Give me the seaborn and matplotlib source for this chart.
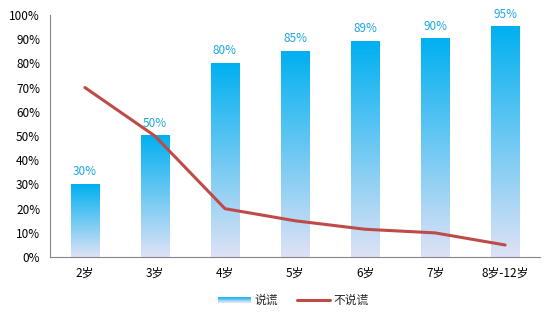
import numpy as np
import pandas as pd
import matplotlib
matplotlib.use("Agg")
import matplotlib.pyplot as plt
import seaborn as sns
from matplotlib.colors import LinearSegmentedColormap
from matplotlib.legend_handler import HandlerBase
from matplotlib.patches import Rectangle
from matplotlib.lines import Line2D
from matplotlib.ticker import PercentFormatter, FixedLocator

categories = ["2岁", "3岁", "4岁", "5岁", "6岁", "7岁", "8岁-12岁"]
lie = [30, 50, 80, 85, 89, 90, 95]
no_lie = [70, 50, 20, 15, 11.5, 10, 5]

sns.set_style("white")
plt.rcParams['font.family'] = ['Noto Sans CJK SC', 'DejaVu Sans']

top_c = (0/255, 176/255, 240/255)
bot_c = (222/255, 226/255, 246/255)
cmap = LinearSegmentedColormap.from_list("g", [bot_c, top_c])

fig = plt.figure(figsize=(5.54, 3.23), dpi=100)
ax = fig.add_axes([0.090, 0.204, 0.885, 0.750])

df = pd.DataFrame({"cat": categories, "lie": lie, "no": no_lie})
sns.barplot(data=df, x="cat", y="lie", ax=ax, width=0.4, color=top_c, order=categories)

grad = np.linspace(0, 1, 256).reshape(-1, 1)
for p in list(ax.patches):
    x0, y0 = p.get_x(), p.get_y()
    w, h = p.get_width(), p.get_height()
    p.set_alpha(0)
    ax.imshow(grad, cmap=cmap, aspect="auto", origin="lower",
              extent=[x0, x0 + w, 0, h], vmin=0, vmax=1, zorder=2)
    ax.text(x0 + w / 2, h + 2.5, f"{int(h)}%", ha="center", va="bottom",
            fontsize=8.5, color="#1EA6DF", zorder=4)

sns.lineplot(data=df, x="cat", y="no", ax=ax, color="#BE4B48", linewidth=2.2, zorder=3, sort=False)

ax.set_xlim(-0.5, 6.5)
ax.set_ylim(0, 100)
ax.yaxis.set_major_locator(FixedLocator(np.arange(0, 101, 10)))
ax.yaxis.set_major_formatter(PercentFormatter(decimals=0))
ax.set_xlabel("")
ax.set_ylabel("")
ax.set_xticks(range(len(categories)))
ax.set_xticklabels(categories)
ax.set_xticks(np.arange(-0.5, 7, 1), minor=True)
ax.tick_params(axis="x", which="major", length=0, pad=7, labelsize=8.5, colors="#000000")
ax.tick_params(axis="x", which="minor", length=4, width=0.8, color="#868686", direction="out")
ax.tick_params(axis="y", which="major", length=4, width=0.8, color="#868686", direction="out",
               labelsize=8.5, pad=3, labelcolor="#000000")
for s in ["top", "right"]:
    ax.spines[s].set_visible(False)
for s in ["left", "bottom"]:
    ax.spines[s].set_color("#868686")
    ax.spines[s].set_linewidth(0.8)
ax.grid(False)


class GradHandler(HandlerBase):
    def create_artists(self, legend, orig_handle, xdescent, ydescent, width, height, fontsize, trans):
        arts = []
        n = 8
        hh = height * 0.75
        y0 = -ydescent + (height - hh) / 2
        for i in range(n):
            c = cmap(1 - i / (n - 1))
            r = Rectangle((-xdescent, y0 + hh - (i + 1) * hh / n), width, hh / n + 0.1,
                          facecolor=c, edgecolor='none', transform=trans)
            arts.append(r)
        return arts


bar_handle = Rectangle((0, 0), 1, 1)
line_handle = Line2D([0], [0], color="#BE4B48", linewidth=2.2)
fig.legend([bar_handle, line_handle], ["说谎", "不说谎"],
           handler_map={Rectangle: GradHandler()},
           loc="center", bbox_to_anchor=(0.53, 0.07), ncol=2, frameon=False,
           fontsize=8.5, handlelength=2.8, columnspacing=1.6, handletextpad=0.3)

fig.savefig("out.png", dpi=100)
